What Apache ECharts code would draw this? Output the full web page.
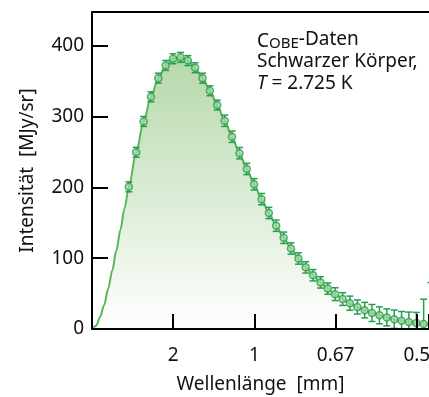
<!DOCTYPE html>
<html>
<head>
<meta charset="utf-8">
<script src="https://cdn.jsdelivr.net/npm/echarts@6/dist/echarts.min.js"></script>
<style>
  html, body { margin: 0; padding: 0; background: #fff; }
  #chart { width: 429px; height: 397px; }
</style>
</head>
<body>
<div id="chart"></div>
<script>
/* COBE/FIRAS Spektrum, x-Achse linear in Wellenzahl (1/cm) */

// Messpunkte: Wellenzahl [1/cm], Intensität [MJy/sr], Fehlerbalken (halbe Länge)
var FREQ = [2.27, 2.72, 3.18, 3.63, 4.08, 4.54, 4.99, 5.45, 5.90, 6.35, 6.81, 7.26, 7.71,
            8.17, 8.62, 9.08, 9.53, 9.98, 10.44, 10.89, 11.34, 11.80, 12.25,
            12.71, 13.16, 13.61, 14.07, 14.52, 14.97, 15.43, 15.88,
            16.34, 16.79, 17.24, 17.70, 18.15, 18.61,
            19.06, 19.51, 19.97, 20.42, 20.87, 21.33];
var INTENS = [200.7, 249.5, 293.0, 327.8, 354.1, 372.1, 381.5, 383.5, 378.9, 368.8, 354.1, 336.3, 316.1,
              293.9, 271.4, 248.2, 225.9, 204.3, 183.3, 163.8, 145.8, 128.8, 113.6,
              99.5, 87.0, 75.9, 65.8, 57.0, 49.2, 42.3, 36.4,
              31.1, 26.6, 22.6, 19.3, 16.4, 13.8,
              11.7, 9.9, 8.4, 7.1, 5.8, 4.5];
var ERR = [7, 7, 7, 7, 7, 7, 7, 7, 7, 7, 7, 7, 7,
           8, 8, 8, 8, 8, 8, 8, 8, 8, 8,
           8, 8, 8, 8, 8, 9, 9, 10,
           10, 11, 12, 12, 12, 13,
           13, 14, 15, 35, 60, 70];

// Schwarzkörperkurve unterhalb des ersten Messpunkts
var CURVE_NU = [0, 0.25, 0.5, 0.75, 1.0, 1.25, 1.5, 1.75, 2.0];
var CURVE_I = [0, 4.5, 17, 34, 57, 83, 111, 140, 170];

// Achsenbeschriftung: Wellenzahl -> Wellenlänge [mm]
var X_TICKS = { 5: '2', 10: '1', 15: '0.67', 20: '0.5' };

var FONT = '"Noto Sans", "DejaVu Sans", sans-serif';
var LINE_GREEN = '#58b55c';
var BAR_GREEN = '#24a04c';

var curveData = [];
for (var i = 0; i < CURVE_NU.length; i++) curveData.push([CURVE_NU[i], CURVE_I[i]]);
for (var j = 0; j < FREQ.length; j++) curveData.push([FREQ[j], INTENS[j]]);

var pointData = [];
var errData = [];
for (var k = 0; k < FREQ.length; k++) {
    pointData.push([FREQ[k], INTENS[k]]);
    errData.push([FREQ[k], INTENS[k], ERR[k]]);
}

var axisBlack = { lineStyle: { color: '#000', width: 2 } };
var tickBlack = { color: '#000', width: 2, opacity: 1 };

var option = {
    animation: false,
    backgroundColor: '#fff',
    grid: { left: 92, right: 0, top: 12, bottom: 68, outerBoundsMode: 'none', containLabel: false },
    xAxis: [
        {
            type: 'value',
            z: 10,
            min: 0, max: 20.75, interval: 5,
            axisLine: axisBlack,
            axisTick: { show: true, inside: true, length: 15, lineStyle: tickBlack },
            axisLabel: {
                margin: 17, color: '#111', fontSize: 19, fontFamily: FONT,
                formatter: function (v) { return X_TICKS[v] || ''; }
            },
            splitLine: { show: false },
            name: 'Wellenlänge  [mm]',
            nameLocation: 'middle',
            nameGap: 46,
            nameTextStyle: { color: '#111', fontSize: 19, fontFamily: FONT }
        },
        {
            type: 'value',
            z: 10,
            position: 'top',
            min: 0, max: 20.75,
            axisLine: axisBlack,
            axisTick: { show: false },
            axisLabel: { show: false },
            splitLine: { show: false }
        }
    ],
    yAxis: {
        type: 'value',
        z: 10,
        min: 0, max: 447.5, interval: 100,
        axisLine: axisBlack,
        axisTick: { show: true, inside: true, length: 16, lineStyle: tickBlack },
        axisLabel: {
            margin: 8, color: '#111', fontSize: 19, fontFamily: FONT,
            formatter: function (v) { return v % 100 === 0 ? String(v) : ''; }
        },
        splitLine: { show: false },
        name: 'Intensität  [MJy/sr]',
        nameLocation: 'middle',
        nameGap: 55,
        nameTextStyle: { color: '#111', fontSize: 19, fontFamily: FONT }
    },
    graphic: [
        {
            type: 'text',
            left: 257,
            top: 29,
            style: {
                text: '{c|C}{s|OBE}-Daten\nSchwarzer Körper,\n{i|T} = 2.725 K',
                font: '19px ' + FONT,
                fill: '#111',
                lineHeight: 22,
                rich: {
                    c: { fontSize: 19, fontFamily: FONT, lineHeight: 22, verticalAlign: 'bottom', fill: '#111' },
                    s: { fontSize: 15, fontFamily: FONT, lineHeight: 19, verticalAlign: 'bottom', fill: '#111' },
                    i: { fontSize: 19, fontFamily: FONT, fontStyle: 'italic', lineHeight: 22, fill: '#111' }
                }
            }
        }
    ],
    series: [
        {
            name: 'Schwarzer Körper',
            type: 'line',
            data: curveData,
            smooth: 0.3,
            smoothMonotone: 'x',
            showSymbol: false,
            lineStyle: { color: LINE_GREEN, width: 2 },
            areaStyle: {
                opacity: 1,
                color: new echarts.graphic.LinearGradient(0, 0, 0, 1, [
                    { offset: 0, color: '#b6d8aa' },
                    { offset: 1, color: '#ffffff' }
                ])
            },
            z: 2
        },
        {
            name: 'Fehler',
            type: 'custom',
            data: errData,
            clip: true,
            renderItem: function (params, api) {
                var x = api.value(0), y = api.value(1), e = api.value(2);
                var hi = api.coord([x, y + e]);
                var lo = api.coord([x, y - e]);
                var w = 3.5;
                var st = { stroke: BAR_GREEN, lineWidth: 1.5 };
                return {
                    type: 'group',
                    children: [
                        { type: 'line', shape: { x1: hi[0], y1: hi[1], x2: lo[0], y2: lo[1] }, style: st },
                        { type: 'line', shape: { x1: hi[0] - w, y1: hi[1], x2: hi[0] + w, y2: hi[1] }, style: st },
                        { type: 'line', shape: { x1: lo[0] - w, y1: lo[1], x2: lo[0] + w, y2: lo[1] }, style: st }
                    ]
                };
            },
            z: 3
        },
        {
            name: 'COBE-Daten',
            type: 'scatter',
            data: pointData,
            symbol: 'circle',
            symbolSize: 7,
            itemStyle: { color: '#a6d9a7', borderColor: '#2a9d4e', borderWidth: 1.5 },
            z: 4
        }
    ]
};

var chart = echarts.init(document.getElementById('chart'));
chart.setOption(option);
</script>
</body>
</html>
